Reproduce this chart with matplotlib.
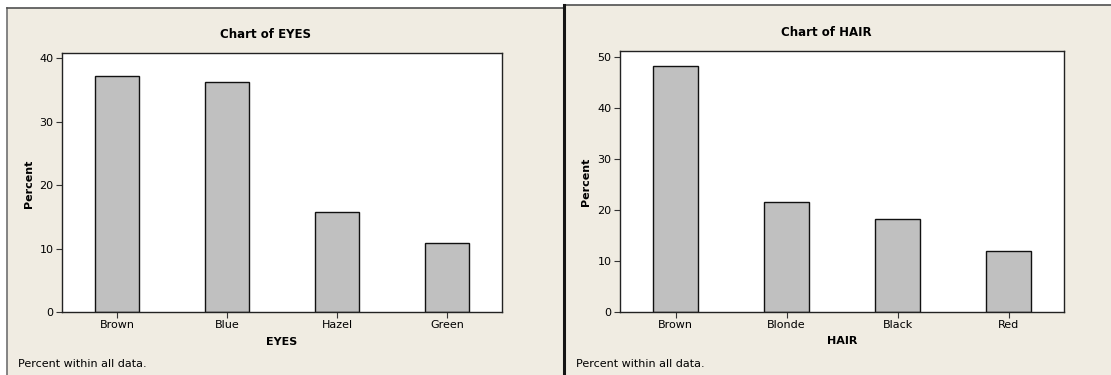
import numpy as np
import matplotlib.pyplot as plt
from matplotlib.patches import Rectangle
from matplotlib.lines import Line2D

# data (percent within all data)
eyes_labels = ['Brown', 'Blue', 'Hazel', 'Green']
eyes_pct = [37.2, 36.3, 15.7, 10.8]
hair_labels = ['Brown', 'Blonde', 'Black', 'Red']
hair_pct = [48.3, 21.5, 18.2, 12.0]

W, H = 1111, 375
bg = '#f0ece2'

plt.rcParams['font.family'] = ['DejaVu Sans']
fig = plt.figure(figsize=(W/100, H/100), dpi=100, facecolor='white')

def fx(x):
    return x/W

def fy(y):
    return 1 - y/H

# panel backgrounds (drawn behind the axes)
fig.patches.append(Rectangle((fx(7), 0), fx(564-7), fy(8), transform=fig.transFigure,
                             facecolor=bg, edgecolor='none', zorder=-2))
fig.patches.append(Rectangle((fx(564), 0), fx(W-564), fy(5), transform=fig.transFigure,
                             facecolor=bg, edgecolor='none', zorder=-2))
# borders
fig.lines.append(Line2D([fx(7), fx(7)], [0, fy(8)], transform=fig.transFigure, color='#707070', lw=1.2, zorder=-1))
fig.lines.append(Line2D([fx(7), fx(564)], [fy(8), fy(8)], transform=fig.transFigure, color='#505050', lw=1.2, zorder=-1))
fig.lines.append(Line2D([fx(564), fx(W)], [fy(5), fy(5)], transform=fig.transFigure, color='#505050', lw=1.2, zorder=-1))
fig.lines.append(Line2D([fx(564), fx(564)], [0, fy(5)], transform=fig.transFigure, color='#151515', lw=2.2, zorder=-1))


def draw_chart(left, right, top, bottom, labels, vals, ymax, yticks, title, xlab,
               title_x, title_y, xlab_x, xlab_y, ylab_x, ylab_y, foot_x):
    ax = fig.add_axes([fx(left), fy(bottom), fx(right-left), (bottom-top)/H])
    x = np.arange(len(labels))
    ax.bar(x, vals, width=0.4, color='#c0c0c0', edgecolor='#111111', linewidth=1.0)
    ax.set_xlim(-0.5, len(labels)-0.5)
    ax.set_ylim(0, ymax)
    ax.set_yticks(yticks)
    ax.set_xticks(x)
    ax.set_xticklabels(labels)
    ax.tick_params(axis='both', labelsize=8, length=4, width=0.8, color='#333333', pad=2)
    for s in ax.spines.values():
        s.set_linewidth(1.0)
        s.set_color('#222222')
    ax.set_facecolor('white')
    fig.text(fx(title_x), fy(title_y), title, ha='center', va='center',
             fontsize=8.5, fontweight='bold')
    fig.text(fx(xlab_x), fy(xlab_y), xlab, ha='center', va='center',
             fontsize=8, fontweight='bold')
    fig.text(fx(ylab_x), fy(ylab_y), 'Percent', ha='center', va='center',
             fontsize=8, fontweight='bold', rotation=90)
    fig.text(fx(foot_x), fy(364), 'Percent within all data.', ha='left', va='center',
             fontsize=8)
    return ax

draw_chart(62, 502, 53, 312, eyes_labels, eyes_pct, 40.8, [0, 10, 20, 30, 40],
           'Chart of EYES', 'EYES', 266, 34, 282, 342, 29, 184, 18)
draw_chart(620, 1064, 51, 312, hair_labels, hair_pct, 51.2, [0, 10, 20, 30, 40, 50],
           'Chart of HAIR', 'HAIR', 826, 33, 842, 341, 586, 182, 576)

fig.savefig('out.png', dpi=100, facecolor='white')
